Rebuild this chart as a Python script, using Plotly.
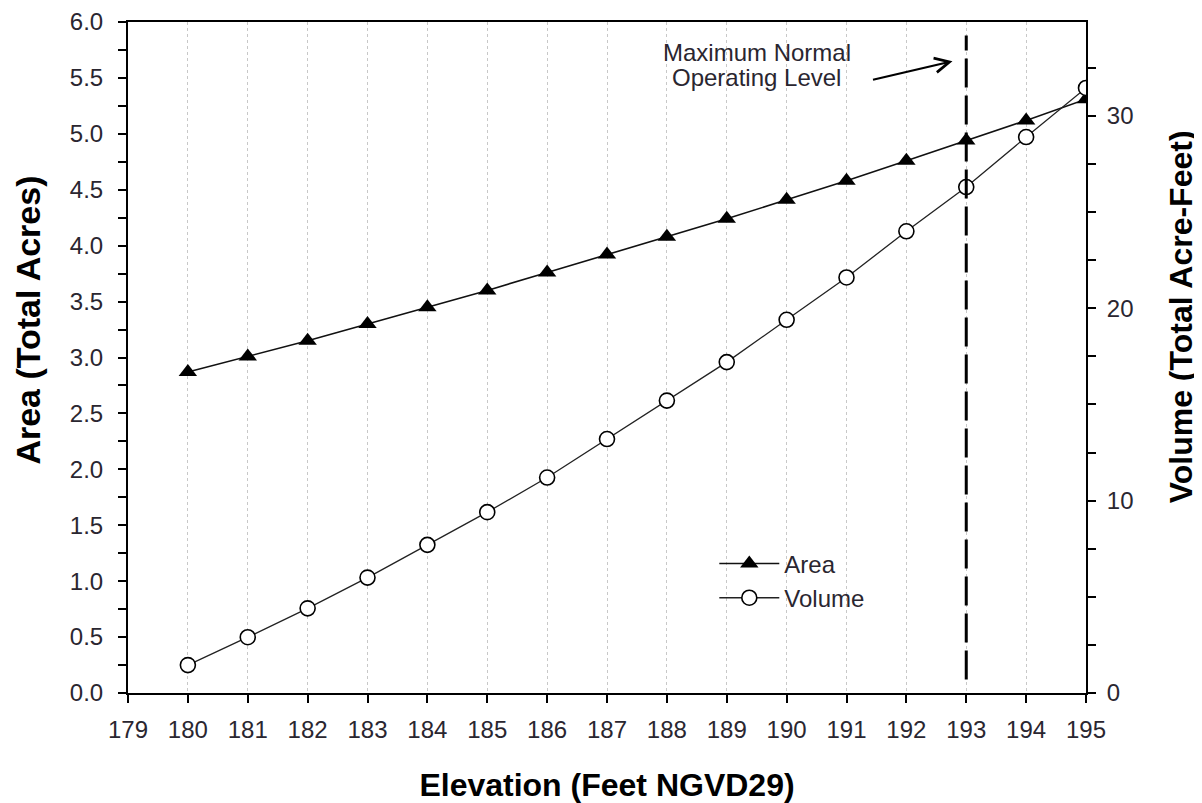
import plotly.graph_objects as go

elevation = [180, 181, 182, 183, 184, 185, 186, 187, 188, 189, 190, 191, 192, 193, 194, 195]
area = [2.87, 3.01, 3.15, 3.30, 3.45, 3.60, 3.76, 3.92, 4.08, 4.24, 4.41, 4.58, 4.76, 4.94, 5.12, 5.31]
volume = [1.45, 2.9, 4.4, 6.0, 7.7, 9.4, 11.2, 13.2, 15.2, 17.2, 19.4, 21.6, 24.0, 26.3, 28.9, 31.45]
x_ticks = list(range(179, 196))
max_level = 193
note_lines = ["Maximum Normal", "Operating Level"]
titles = {"x": "Elevation (Feet NGVD29)", "y": "Area (Total Acres)", "y2": "Volume (Total Acre-Feet)"}

FONT = "Liberation Sans, Arial, sans-serif"
TXT = "#2a2630"

fig = go.Figure()
fig.add_trace(go.Scatter(
    x=elevation, y=area, name="Area", mode="lines+markers",
    line=dict(color="#111", width=1.6),
    marker=dict(symbol="triangle-up", size=16, color="black"),
    yaxis="y"))
fig.add_trace(go.Scatter(
    x=elevation, y=volume, name="Volume", mode="lines+markers",
    line=dict(color="#222", width=1.3),
    marker=dict(symbol="circle", size=15, color="white", line=dict(color="black", width=1.6)),
    yaxis="y2"))

fig.add_shape(type="line", x0=max_level, x1=max_level, xref="x", y0=0.02, y1=0.98, yref="paper",
              line=dict(color="black", width=3, dash="29px,8px"))

fig.add_annotation(x=max_level - 0.23, y=5.65, xref="x", yref="y", text="", showarrow=True,
                   ax=-81, ay=19, arrowhead=5, arrowsize=1.3, arrowwidth=2.2, arrowcolor="black")
fig.add_annotation(x=189.5, y=5.73, xref="x", yref="y", text=note_lines[0], showarrow=False,
                   font=dict(family=FONT, size=24, color=TXT))
fig.add_annotation(x=189.5, y=5.50, xref="x", yref="y", text=note_lines[1], showarrow=False,
                   font=dict(family=FONT, size=24, color=TXT))

# y-axis titles (placed slightly above the plot centre as in the original)
fig.add_annotation(x=0, y=0.555, xref="paper", yref="paper", xshift=-100, textangle=-90,
                   xanchor="center", yanchor="middle",
                   text="<b>" + titles["y"] + "</b>", showarrow=False,
                   font=dict(family=FONT, size=34, color="black"))
fig.add_annotation(x=1, y=0.56, xref="paper", yref="paper", xshift=95, textangle=-90,
                   xanchor="center", yanchor="middle",
                   text="<b>" + titles["y2"] + "</b>", showarrow=False,
                   font=dict(family=FONT, size=32, color="black"))

axis_common = dict(showline=True, linecolor="black", linewidth=2, ticks="outside",
                   ticklen=8, tickwidth=2, tickcolor="black", automargin=False,
                   tickfont=dict(family=FONT, size=24, color=TXT), zeroline=False)

fig.update_layout(
    width=1194, height=795,
    margin=dict(l=120, r=116, t=14, b=110),
    paper_bgcolor="white", plot_bgcolor="white",
    showlegend=True,
    legend=dict(x=0.612, y=0.167, xanchor="left", yanchor="middle",
                font=dict(family=FONT, size=24, color=TXT),
                bgcolor="rgba(0,0,0,0)", tracegroupgap=0, itemwidth=60),
    xaxis=dict(range=[179, 195], tickvals=x_ticks, mirror=True, ticklabelstandoff=6,
               showgrid=True, gridcolor="#c8c8c8", griddash="dot", gridwidth=1,
               title=dict(text="<b>" + titles["x"] + "</b>", font=dict(family=FONT, size=32, color="black"),
                          standoff=32),
               **axis_common),
    yaxis=dict(range=[0, 6], dtick=0.5, tickformat=".1f", showgrid=False, ticklabelstandoff=10,
               minor=dict(dtick=0.25, ticks="outside", ticklen=8, tickwidth=2, tickcolor="black"),
               **axis_common),
    yaxis2=dict(range=[0, 34.88], dtick=10, overlaying="y", side="right", showgrid=False,
                ticklabelstandoff=6,
                minor=dict(dtick=2.5, ticks="outside", ticklen=8, tickwidth=2, tickcolor="black"),
                **axis_common),
)

fig.write_html("out.html")
